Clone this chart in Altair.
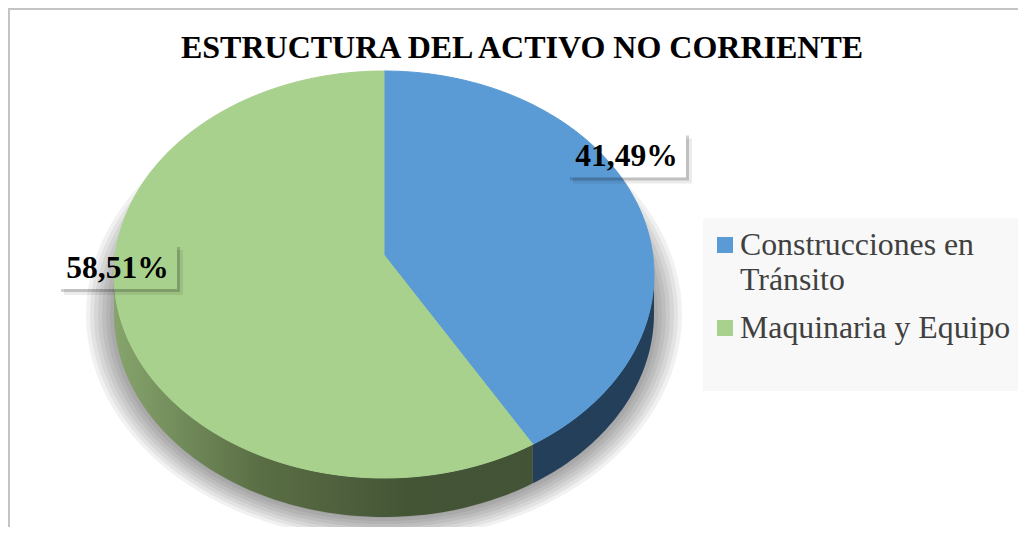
import altair as alt
import pandas as pd

# ---------------- data ----------------
categories = ["Construcciones en Tránsito", "Maquinaria y Equipo"]
values = [41.49, 58.51]
title_text = "ESTRUCTURA DEL ACTIVO NO CORRIENTE"

# ---------------- style / layout ----------------
top_colors = ["#5b9bd5", "#a9d18e"]
side_blue = "#243f5a"
FONT = "Liberation Serif"
W, H = 1010, 519
CX, ECY, APY = 376.0, 266.5, 247.0      # pie centre x, ellipse centre y, apex y
RX, RY, DEPTH = 270.0, 203.5, 39.0
A = APY - ECY
C = A * A / (RY * RY) - 1.0
label_cx = [618.5, 109.5]
label_cy = [147.0, 258.5]
BOX_HW, BOX_HH = 59.5, 22.5
LEG_X, LEG_Y0, LEG_STEP = 709.0, 247.0, 83.0

xs = alt.Scale(domain=[0, W], nice=False, zero=False)
ys = alt.Scale(domain=[0, H], reverse=True, nice=False, zero=False)


def X(f):
    return alt.X(f, type="quantitative", scale=xs, axis=None)


def Y(f):
    return alt.Y(f, type="quantitative", scale=ys, axis=None)


pie_df = pd.DataFrame({"category": categories, "value": values, "order": list(range(len(values)))})

base = (
    alt.Chart(pie_df)
    .transform_joinaggregate(total="sum(value)")
    .transform_window(cum="sum(value)", sort=[alt.SortField("order")], frame=[None, 0])
    .transform_calculate(f1="datum.cum / datum.total", f0="(datum.cum - datum.value) / datum.total")
)

# ---- shadow ----
shadow = (
    alt.Chart(alt.sequence(0, 8, as_="layer"))
    .transform_calculate(k="sequence(0, 121)")
    .transform_flatten(["k"])
    .transform_calculate(
        e="datum.layer * 4",
        u="2 * PI * datum.k / 120",
        px=f"{CX} + ({RX} + datum.e) * sin(datum.u)",
        py=f"{ECY} + 40 - ({RY} + datum.e * 0.8) * cos(datum.u)",
    )
    .mark_line(filled=True, color="black", opacity=0.055, strokeWidth=0)
    .encode(x=X("px"), y=Y("py"), order=alt.Order("k:Q"), detail="layer:N")
)


# ---- side walls ----
def s_expr(t):
    b = f"(-({A}) * cos({t}) / {RY})"
    return f"(-{b} + sqrt({b} * {b} - ({C})))"


def u_expr(t):
    s = s_expr(t)
    xn = f"({s} * sin({t}))"
    yn = f"({A} / {RY} - {s} * cos({t}))"
    return f"(atan2({xn}, -{yn}) < -1e-9 ? atan2({xn}, -{yn}) + 2 * PI : atan2({xn}, -{yn}))"


side_base = (
    base.transform_calculate(
        t0="2 * PI * datum.f0",
        t1="2 * PI * datum.f1",
    )
    .transform_calculate(
        u0=f"datum.f0 <= 0 ? 0 : {u_expr('datum.t0')}",
        u1=f"datum.f1 >= 0.999999 ? 2 * PI : {u_expr('datum.t1')}",
    )
    .transform_calculate(lo="max(datum.u0, PI / 2)", hi="min(datum.u1, 3 * PI / 2)")
    .transform_filter("datum.hi > datum.lo")
    .transform_calculate(k="sequence(0, 61)")
    .transform_flatten(["k"])
    .transform_calculate(
        u="datum.lo + (datum.hi - datum.lo) * datum.k / 60",
        sx=f"{CX} + {RX} * sin(datum.u)",
        sy=f"{ECY} - {RY} * cos(datum.u)",
        sy2=f"{ECY} - {RY} * cos(datum.u) + {DEPTH}",
    )
)

side_green = side_base.transform_filter("datum.order == 1").mark_area(
    color=alt.Gradient(
        gradient="linear",
        stops=[
            alt.GradientStop(color="#86a46c", offset=0),
            alt.GradientStop(color="#5a6e45", offset=0.35),
            alt.GradientStop(color="#445536", offset=0.7),
            alt.GradientStop(color="#435336", offset=1),
        ],
        x1=0, x2=1, y1=0, y2=0,
    )
).encode(x=X("sx"), y=Y("sy"), y2="sy2:Q")

side_blue_l = side_base.transform_filter("datum.order == 0").mark_area(color=side_blue).encode(
    x=X("sx"), y=Y("sy"), y2="sy2:Q"
)

# ---- top face ----
top = (
    base.transform_calculate(k="sequence(0, 122)")
    .transform_flatten(["k"])
    .transform_calculate(
        isapex="datum.k == 0 || datum.k == 121",
        t="2 * PI * (datum.f0 + (datum.f1 - datum.f0) * clamp((datum.k - 1) / 119, 0, 1))",
    )
    .transform_calculate(s=s_expr("datum.t"))
    .transform_calculate(
        px=f"datum.isapex ? {CX} : {CX} + datum.s * {RX} * sin(datum.t)",
        py=f"datum.isapex ? {APY} : {APY} - datum.s * {RY} * cos(datum.t)",
    )
    .mark_line(filled=True, strokeWidth=1, strokeJoin="round")
    .encode(
        x=X("px"),
        y=Y("py"),
        order=alt.Order("k:Q"),
        detail="category:N",
        color=alt.Color("category:N", scale=alt.Scale(domain=categories, range=top_colors), legend=None),
        stroke=alt.Stroke("category:N", scale=alt.Scale(domain=categories, range=top_colors), legend=None),
    )
)

# ---- data labels ----
lab_df = pd.DataFrame({"category": categories, "value": values, "cx": label_cx, "cy": label_cy})
lab_base = alt.Chart(lab_df).transform_calculate(
    bx0=f"datum.cx - {BOX_HW}",
    bx1=f"datum.cx + {BOX_HW}",
    by0=f"datum.cy - {BOX_HH}",
    by1=f"datum.cy + {BOX_HH}",
    label="replace(format(datum.value, '.2f'), '.', ',') + '%'",
    ty="datum.cy + 11",
)


def box_shadow(w, op):
    right = lab_base.transform_calculate(
        a="datum.bx1", b=f"datum.bx1 + {w}", c=f"datum.by0 + {w}", d=f"datum.by1 + {w}"
    ).mark_rect(color="black", opacity=op).encode(x=X("a"), x2="b:Q", y=Y("c"), y2="d:Q")
    bottom = lab_base.transform_calculate(
        a=f"datum.bx0 + {w}", b="datum.bx1", c="datum.by1", d=f"datum.by1 + {w}"
    ).mark_rect(color="black", opacity=op).encode(x=X("a"), x2="b:Q", y=Y("c"), y2="d:Q")
    return [right, bottom]


lab_text = lab_base.mark_text(
    font=FONT, fontSize=31.5, fontWeight="bold", color="black", align="center", baseline="alphabetic"
).encode(x=X("cx"), y=Y("ty"), text="label:N")

# ---- legend ----
leg_df = pd.DataFrame({"category": categories, "order": list(range(len(categories)))})
leg_base = alt.Chart(leg_df).transform_calculate(
    ly=f"{LEG_Y0} + {LEG_STEP} * datum.order",
    sx0=f"{LEG_X}",
    sx1=f"{LEG_X} + 16",
    sy0=f"{LEG_Y0} + {LEG_STEP} * datum.order - 18",
    sy1=f"{LEG_Y0} + {LEG_STEP} * datum.order - 2",
    tx=f"{LEG_X} + 23",
    disp="replace(datum.category, ' en ', ' en\\n')",
)
one = pd.DataFrame({"a": [0]})
leg_bg = alt.Chart(one).mark_rect(color="#f8f8f8").encode(
    x=alt.value(695), x2=alt.value(W), y=alt.value(210), y2=alt.value(383)
)
leg_sq = leg_base.mark_rect().encode(
    x=X("sx0"), x2="sx1:Q", y=Y("sy0"), y2="sy1:Q",
    color=alt.Color("category:N", scale=alt.Scale(domain=categories, range=top_colors), legend=None),
)
leg_txt = leg_base.mark_text(
    font=FONT, fontSize=31.8, color="#404040", align="left", baseline="alphabetic",
    lineBreak="\n", lineHeight=35,
).encode(x=X("tx"), y=Y("ly"), text="disp:N")

# ---- title & frame ----
title = alt.Chart(pd.DataFrame({"t": [title_text]})).mark_text(
    font=FONT, fontSize=32, fontWeight="bold", color="black", align="center", baseline="alphabetic"
).encode(x=alt.value(514), y=alt.value(50), text="t:N")

frame_top = alt.Chart(one).mark_rule(color="#c4c4c4", strokeWidth=2).encode(
    x=alt.value(0), x2=alt.value(W), y=alt.value(1)
)
frame_left = alt.Chart(one).mark_rule(color="#c4c4c4", strokeWidth=2).encode(
    x=alt.value(1), y=alt.value(0), y2=alt.value(H)
)

layers = [shadow, side_green, side_blue_l, top]
layers += box_shadow(6, 0.08) + box_shadow(3, 0.18)
layers += [lab_text, leg_bg, leg_sq, leg_txt, title, frame_top, frame_left]

chart = (
    alt.layer(*layers)
    .properties(width=W, height=H, autosize=alt.AutoSizeParams(type="none"), padding=0)
    .configure(background="white")
    .configure_view(stroke=None)
)

chart.save("out.html", embed_options={"renderer": "svg", "actions": False})
